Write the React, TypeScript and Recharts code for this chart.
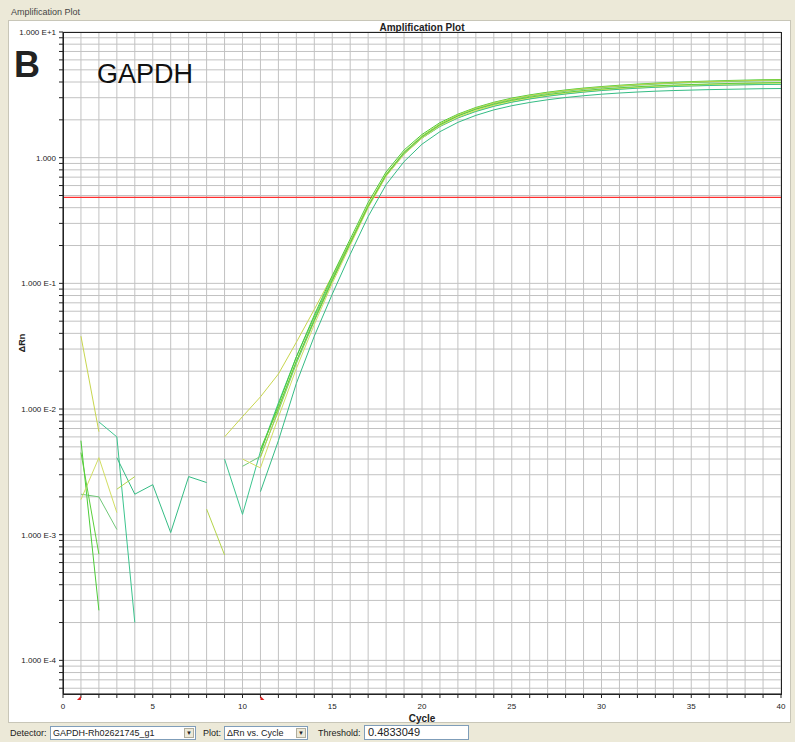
import React from 'react';
import { LineChart, Line, XAxis, YAxis, CartesianGrid, ReferenceLine, ReferenceDot } from 'recharts';

// cycles 1..40, ΔRn per well (null = negative ΔRn, not drawn on log axis)
const cycles = [1, 2, 3, 4, 5, 6, 7, 8, 9, 10, 11, 12, 13, 14, 15, 16, 17, 18, 19, 20, 21, 22, 23, 24, 25, 26, 27, 28, 29, 30, 31, 32, 33, 34, 35, 36, 37, 38, 39, 40];

const wellA = [0.038, 0.0066, null, null, null, null, null, null, 0.006, 0.0087, 0.0125, 0.019, 0.034, 0.062, 0.115, 0.215, 0.42, 0.73, 1.08, 1.44, 1.78, 2.08, 2.35, 2.58, 2.78, 2.95, 3.1, 3.23, 3.34, 3.44, 3.52, 3.59, 3.64, 3.69, 3.73, 3.76, 3.79, 3.81, 3.83, 3.85];
const wellB = [null, 0.0079, 0.006, 0.0002, null, null, null, null, 0.004, 0.00145, 0.0046, 0.0112, 0.026, 0.054, 0.11, 0.212, 0.41, 0.72, 1.07, 1.43, 1.77, 2.07, 2.33, 2.56, 2.76, 2.93, 3.08, 3.21, 3.32, 3.42, 3.5, 3.57, 3.63, 3.68, 3.72, 3.75, 3.78, 3.8, 3.82, 3.83];
const wellC = [0.0056, 0.00025, null, null, null, null, null, null, null, null, 0.0045, 0.0108, 0.026, 0.056, 0.115, 0.225, 0.44, 0.77, 1.15, 1.53, 1.9, 2.22, 2.51, 2.76, 2.98, 3.16, 3.32, 3.46, 3.58, 3.68, 3.77, 3.85, 3.92, 3.98, 4.03, 4.07, 4.11, 4.14, 4.17, 4.19];
const wellD = [0.0021, 0.002, 0.0011, null, null, null, null, null, null, 0.0035, 0.0042, 0.0096, 0.023, 0.05, 0.104, 0.206, 0.405, 0.72, 1.08, 1.45, 1.82, 2.15, 2.44, 2.69, 2.9, 3.08, 3.24, 3.38, 3.5, 3.6, 3.69, 3.77, 3.84, 3.9, 3.95, 3.99, 4.03, 4.06, 4.09, 4.11];
const wellE = [0.0019, 0.0041, 0.0015, null, null, null, null, null, null, 0.004, 0.0034, 0.0086, 0.021, 0.047, 0.1, 0.2, 0.4, 0.71, 1.06, 1.43, 1.79, 2.1, 2.38, 2.62, 2.83, 3.0, 3.15, 3.28, 3.39, 3.49, 3.57, 3.64, 3.7, 3.75, 3.79, 3.83, 3.86, 3.89, 3.91, 3.93];
const wellF = [null, null, 0.0041, 0.0021, 0.0025, 0.00104, 0.0029, 0.0026, null, null, 0.0022, 0.0056, 0.016, 0.038, 0.082, 0.17, 0.34, 0.61, 0.93, 1.28, 1.61, 1.91, 2.17, 2.4, 2.59, 2.75, 2.89, 3.01, 3.11, 3.2, 3.27, 3.33, 3.38, 3.42, 3.45, 3.48, 3.5, 3.52, 3.54, 3.55];
const wellG = [null, null, 0.0023, 0.0029, null, null, null, 0.0016, 0.00069, null, 0.0041, 0.0099, 0.024, 0.052, 0.108, 0.212, 0.415, 0.74, 1.11, 1.49, 1.86, 2.19, 2.48, 2.73, 2.94, 3.12, 3.28, 3.42, 3.54, 3.64, 3.73, 3.81, 3.88, 3.94, 3.99, 4.03, 4.07, 4.1, 4.13, 4.15];
const wellH = [0.0045, 0.0007, null, null, null, null, null, null, null, null, 0.0048, 0.0102, 0.024, 0.051, 0.106, 0.209, 0.41, 0.73, 1.1, 1.47, 1.83, 2.15, 2.43, 2.66, 2.86, 3.03, 3.18, 3.31, 3.42, 3.52, 3.6, 3.67, 3.73, 3.78, 3.82, 3.86, 3.89, 3.92, 3.94, 3.96];

const wells = [
  { key: 'A', values: wellA, color: '#c8d64e' },
  { key: 'B', values: wellB, color: '#3cc48e' },
  { key: 'C', values: wellC, color: '#4ccc38' },
  { key: 'D', values: wellD, color: '#70c878' },
  { key: 'E', values: wellE, color: '#d2de62' },
  { key: 'F', values: wellF, color: '#34bc84' },
  { key: 'G', values: wellG, color: '#b4d44a' },
  { key: 'H', values: wellH, color: '#5ccf3c' },
];

const threshold = 0.4833049;
const baselineStart = 1;
const baselineEnd = 11;

const xTicks = [0, 1, 2, 3, 4, 5, 6, 7, 8, 9, 10, 11, 12, 13, 14, 15, 16, 17, 18, 19, 20, 21, 22, 23, 24, 25, 26, 27, 28, 29, 30, 31, 32, 33, 34, 35, 36, 37, 38, 39, 40];
const xLabelled = [0, 5, 10, 15, 20, 25, 30, 35, 40];

const yMin = 5.4e-5;
const yMax = 10;
const decades = [1e-5, 1e-4, 1e-3, 1e-2, 1e-1, 1, 10];
const decadeLabels = ['1.000 E-5', '1.000 E-4', '1.000 E-3', '1.000 E-2', '1.000 E-1', '1.000', '1.000 E+1'];
const steps = [1, 2, 3, 4, 5, 6, 7, 8, 9];

const yTicks: number[] = [];
decades.forEach((d) => steps.forEach((s) => {
  const v = d * s;
  if (v >= yMin && v <= yMax * 1.0001) yTicks.push(v);
}));

const yLabel = (v: number) => {
  const i = decades.findIndex((d) => Math.abs(v / d - 1) < 1e-6);
  return i >= 0 ? decadeLabels[i] : '';
};

const data = cycles.map((c, i) => {
  const row: Record<string, number | null> = { cycle: c };
  wells.forEach((w) => { row[w.key] = w.values[i]; });
  return row;
});

const font = '"Liberation Sans", Arial, sans-serif';

// plain svg text so the long labels never wrap
const YTick = ({ x, y, payload }: any) => (
  <text x={x} y={y} dy={3} textAnchor="end" fontSize={8} fill="#222" fontFamily={font}>
    {yLabel(payload.value)}
  </text>
);
const XTick = ({ x, y, payload }: any) => (
  <text x={x} y={y} dy={8} textAnchor="middle" fontSize={8} fill="#222" fontFamily={font}>
    {xLabelled.includes(payload.value) ? payload.value : ''}
  </text>
);

const StartMarker = ({ cx, cy }: any) => (
  <polygon points={`${cx},${cy + 2} ${cx},${cy + 6} ${cx - 4},${cy + 6}`} fill="#e02020" />
);
const EndMarker = ({ cx, cy }: any) => (
  <polygon points={`${cx},${cy + 2} ${cx},${cy + 6} ${cx + 4},${cy + 6}`} fill="#e02020" />
);

function Combo({ left, width, text }: { left: number; width: number; text: string }) {
  return (
    <div style={{ position: 'absolute', left, top: 726, width, height: 14, background: '#fff', border: '1px solid #7f9db9', boxSizing: 'border-box', fontSize: 9, lineHeight: '12px', paddingLeft: 2, whiteSpace: 'nowrap' }}>
      {text}
      <div style={{ position: 'absolute', right: 1, top: 1, width: 10, height: 10, background: '#ece9d8', border: '1px solid #b0ad9c', boxSizing: 'border-box', fontSize: 6, lineHeight: '8px', textAlign: 'center' }}>▼</div>
    </div>
  );
}

const label = (left: number, text: string) => (
  <div style={{ position: 'absolute', left, top: 727, fontSize: 9, lineHeight: '12px', whiteSpace: 'nowrap' }}>{text}</div>
);

export default function App() {
  return (
    <div style={{ position: 'relative', width: 795, height: 742, background: '#ece9d8', overflow: 'hidden', fontFamily: font, color: '#222' }}>
      <style>{'body{margin:0}'}</style>
      <div style={{ position: 'absolute', left: 11, top: 7, fontSize: 9, color: '#444' }}>Amplification Plot</div>
      <div style={{ position: 'absolute', left: 8, top: 20, width: 783, height: 703, background: '#fff', border: '1px solid #c8c6b8', boxSizing: 'border-box' }} />

      <div style={{ position: 'absolute', left: 0, top: 0 }}>
        <LineChart width={795} height={742} data={data} margin={{ top: 32, right: 14, bottom: 18, left: 0 }}>
          <CartesianGrid stroke="#c2c2c2" strokeWidth={1} />
          <XAxis
            dataKey="cycle"
            type="number"
            domain={[0, 40]}
            ticks={xTicks}
            interval={0}
            height={30}
            tickSize={4}
            tickMargin={3}
            stroke="#222"
            tick={<XTick />}
          />
          <YAxis
            type="number"
            scale="log"
            domain={[yMin, yMax]}
            allowDataOverflow
            ticks={yTicks}
            interval={0}
            width={63}
            tickSize={4}
            tickMargin={3}
            stroke="#222"
            tick={<YTick />}
          />
          <ReferenceLine y={threshold} stroke="#ff2e2e" strokeWidth={1.4} ifOverflow="visible" />
          {wells.map((w) => (
            <Line
              key={w.key}
              dataKey={w.key}
              type="linear"
              stroke={w.color}
              strokeWidth={1}
              dot={false}
              connectNulls={false}
              isAnimationActive={false}
            />
          ))}
          <ReferenceDot x={baselineStart} y={yMin} ifOverflow="visible" shape={StartMarker} />
          <ReferenceDot x={baselineEnd} y={yMin} ifOverflow="visible" shape={EndMarker} />
        </LineChart>
      </div>

      {/* plot frame */}
      <div style={{ position: 'absolute', left: 63, top: 32, width: 719, height: 663, border: '1px solid #222', boxSizing: 'border-box', pointerEvents: 'none' }} />

      <div style={{ position: 'absolute', left: 0, width: 844, top: 22, textAlign: 'center', fontSize: 10, fontWeight: 'bold' }}>Amplification Plot</div>
      <div style={{ position: 'absolute', left: 14, top: 42, fontSize: 36, fontWeight: 'bold', lineHeight: '46px' }}>B</div>
      <div style={{ position: 'absolute', left: 97, top: 57, fontSize: 27, lineHeight: '34px', color: '#111' }}>GAPDH</div>
      <div style={{ position: 'absolute', left: 4, top: 338, width: 36, textAlign: 'center', fontSize: 9, fontWeight: 'bold', transform: 'rotate(-90deg)' }}>ΔRn</div>
      <div style={{ position: 'absolute', left: 0, width: 844, top: 713, textAlign: 'center', fontSize: 10, fontWeight: 'bold' }}>Cycle</div>

      {label(10, 'Detector:')}
      <Combo left={50} width={146} text="GAPDH-Rh02621745_g1" />
      {label(203, 'Plot:')}
      <Combo left={224} width={84} text="ΔRn vs. Cycle" />
      {label(318, 'Threshold:')}
      <div style={{ position: 'absolute', left: 364, top: 725, width: 105, height: 15, background: '#fff', border: '1px solid #7f9db9', boxSizing: 'border-box', fontSize: 11, lineHeight: '13px', paddingLeft: 3 }}>0.4833049</div>
    </div>
  );
}
